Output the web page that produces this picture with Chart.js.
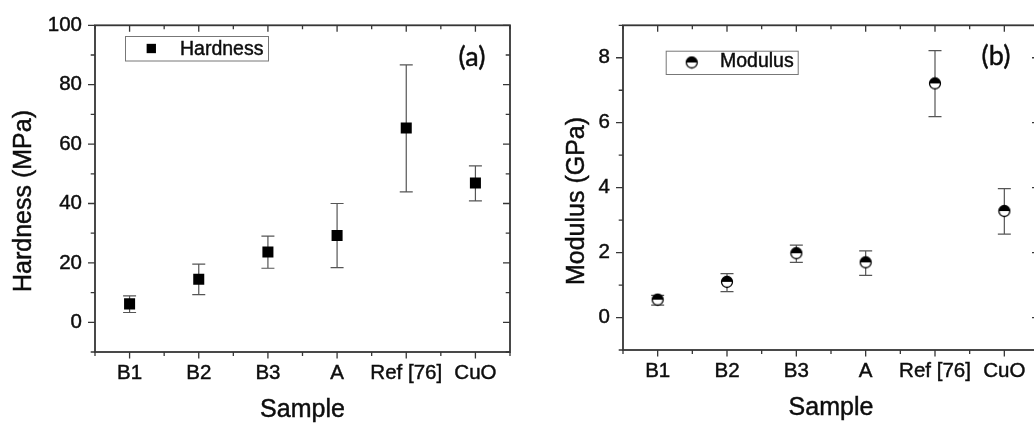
<!DOCTYPE html>
<html><head><meta charset="utf-8">
<script src="https://cdn.jsdelivr.net/npm/chart.js@4.4.1/dist/chart.umd.min.js"></script>
<style>
html,body{margin:0;padding:0;background:#fff;overflow:hidden;width:1034px;height:428px;}
#wrap{position:relative;width:1034px;height:428px;overflow:hidden;background:#fff;}
#c1{position:absolute;left:0;top:0;}
#c2{position:absolute;left:520px;top:0;}
</style></head><body>
<div id="wrap"><canvas id="c1" width="520" height="428"></canvas><canvas id="c2" width="540" height="428"></canvas></div>
<script>
// ---- data ----
const categories = ['B1', 'B2', 'B3', 'A', 'Ref [76]', 'CuO'];
const hardness = [6.2, 14.5, 23.7, 29.2, 65.4, 46.9];
const hardnessLow = [3.3, 9.3, 18.2, 18.4, 43.9, 40.9];
const hardnessHigh = [8.9, 19.6, 29.0, 40.0, 86.7, 52.7];
const modulus = [0.55, 1.10, 1.98, 1.70, 7.21, 3.28];
const modulusLow = [0.38, 0.80, 1.70, 1.30, 6.19, 2.57];
const modulusHigh = [0.68, 1.35, 2.23, 2.05, 8.22, 3.97];
const hardnessTicks = [0, 20, 40, 60, 80, 100];
const modulusTicks = [0, 2, 4, 6, 8];

const AXIS = '#363636', TEXT = '#0d0d0d';
const FONT = "'Liberation Sans', Arial, sans-serif";

function halfCircle(r) {
  const s = Math.ceil(2 * r + 3);
  const c = document.createElement('canvas');
  c.width = s; c.height = s;
  const g = c.getContext('2d');
  const cx = s / 2, cy = s / 2;
  g.fillStyle = '#fff'; g.beginPath(); g.arc(cx, cy, r, 0, 2 * Math.PI); g.fill();
  g.fillStyle = '#000'; g.beginPath(); g.arc(cx, cy, r, Math.PI, 2 * Math.PI); g.closePath(); g.fill();
  g.strokeStyle = '#000'; g.lineWidth = 1.3; g.beginPath(); g.arc(cx, cy, r, 0, 2 * Math.PI); g.stroke();
  return c;
}

function heavyText(ctx, text, x, y) {
  ctx.fillText(text, x, y);
  ctx.strokeText(text, x, y);
}

const panelPlugin = {
  id: 'panel',
  beforeDatasetsDraw(chart, args, o) {
    const {ctx} = chart; const xs = chart.scales.x, ys = chart.scales.y;
    ctx.save();
    ctx.strokeStyle = '#555'; ctx.lineWidth = 1.2;
    ctx.beginPath();
    o.low.forEach((lo, i) => {
      const px = xs.getPixelForValue(i);
      const y1 = ys.getPixelForValue(lo), y2 = ys.getPixelForValue(o.high[i]);
      ctx.moveTo(px, y1); ctx.lineTo(px, y2);
      ctx.moveTo(px - 6.5, y1); ctx.lineTo(px + 6.5, y1);
      ctx.moveTo(px - 6.5, y2); ctx.lineTo(px + 6.5, y2);
    });
    ctx.stroke();
    ctx.restore();
  },
  afterDraw(chart, args, o) {
    const {ctx, chartArea: a} = chart; const xs = chart.scales.x, ys = chart.scales.y;
    ctx.save();
    // frame
    ctx.strokeStyle = AXIS; ctx.lineWidth = 1.8;
    ctx.strokeRect(a.left, a.top, a.right - a.left, a.bottom - a.top);
    // ticks
    ctx.lineWidth = 1.3;
    ctx.beginPath();
    xs.ticks.forEach(t => {
      const px = xs.getPixelForValue(t.value);
      const L = Number.isInteger(t.value) ? 6.5 : 4;
      ctx.moveTo(px, a.bottom); ctx.lineTo(px, a.bottom + L);
      ctx.moveTo(px, a.top); ctx.lineTo(px, a.top + L);
    });
    ys.ticks.forEach(t => {
      const py = ys.getPixelForValue(t.value);
      const L = o.yMajor.includes(t.value) ? 7 : 4.3;
      ctx.moveTo(a.left, py); ctx.lineTo(a.left - L, py);
      ctx.moveTo(a.right, py); ctx.lineTo(a.right - L, py);
    });
    ctx.stroke();
    // legend
    const lg = o.legend;
    ctx.strokeStyle = '#777'; ctx.lineWidth = 1;
    ctx.strokeRect(lg.box[0] + 0.5, lg.box[1] + 0.5, lg.box[2], lg.box[3]);
    const ds = chart.data.datasets[0];
    ctx.fillStyle = '#000'; ctx.strokeStyle = '#000';
    if (Chart.helpers && Chart.helpers.drawPoint) {
      Chart.helpers.drawPoint(ctx, {pointStyle: ds.pointStyle, radius: lg.r, rotation: 0, borderWidth: 0}, lg.sym[0], lg.sym[1]);
    }
    ctx.fillStyle = TEXT; ctx.strokeStyle = TEXT; ctx.lineWidth = 0.45;
    ctx.font = '19.5px ' + FONT;
    ctx.textAlign = 'left'; ctx.textBaseline = 'middle';
    heavyText(ctx, ds.label, lg.text[0], lg.text[1]);
    // panel tag
    ctx.font = "27px Lato, 'Open Sans', sans-serif";
    ctx.textAlign = 'center';
    heavyText(ctx, o.tag.text, o.tag.x, o.tag.y);
    // x title
    ctx.font = '25px ' + FONT;
    heavyText(ctx, o.xTitle.text, (a.left + a.right) / 2, o.xTitle.y);
    // y title
    ctx.translate(o.yTitle.x, o.yTitle.y);
    ctx.rotate(-Math.PI / 2);
    heavyText(ctx, o.yTitle.text, 0, 0);
    ctx.restore();
  }
};

function build(id, cfg) {
  return new Chart(document.getElementById(id), {
    type: 'scatter',
    data: {
      datasets: [{
        label: cfg.label,
        data: categories.map((c, i) => ({x: i, y: cfg.values[i]})),
        pointStyle: cfg.pointStyle,
        pointRadius: cfg.radius,
        pointHoverRadius: cfg.radius,
        backgroundColor: '#000',
        borderColor: '#000',
        borderWidth: 0,
        showLine: false
      }]
    },
    options: {
      responsive: false,
      animation: false,
      events: [],
      layout: {padding: cfg.padding},
      plugins: {
        legend: {display: false},
        tooltip: {enabled: false},
        panel: cfg.panel
      },
      scales: {
        x: {
          type: 'linear', min: -0.5, max: 5.5,
          border: {display: false},
          grid: {display: false, drawTicks: false},
          ticks: {
            stepSize: 0.5, autoSkip: false, maxRotation: 0, minRotation: 0,
            padding: 9, color: TEXT, font: {family: FONT, size: 20.5},
            textStrokeColor: TEXT, textStrokeWidth: 0.45,
            callback: v => (Number.isInteger(v) && categories[v] !== undefined) ? categories[v] : ''
          },
          afterFit: s => { s.height = cfg.xHeight; }
        },
        y: {
          type: 'linear', min: cfg.yMin, max: cfg.yMax,
          border: {display: false},
          grid: {display: false, drawTicks: false},
          ticks: {
            stepSize: cfg.yStep, autoSkip: false, padding: 13, color: TEXT,
            font: {family: FONT, size: 20.5},
            textStrokeColor: TEXT, textStrokeWidth: 0.45,
            callback: v => cfg.yTicks.includes(v) ? String(v) : ''
          },
          afterFit: s => { s.width = cfg.yWidth; }
        }
      }
    },
    plugins: [panelPlugin]
  });
}

build('c1', {
  label: 'Hardness', values: hardness, pointStyle: 'rect', radius: 7.8,
  padding: {left: 0, right: 10, top: 18, bottom: 0},
  xHeight: 76, yWidth: 95,
  yMin: -10, yMax: 100, yStep: 10, yTicks: hardnessTicks,
  panel: {
    low: hardnessLow, high: hardnessHigh, yMajor: hardnessTicks,
    legend: {box: [125, 36, 143, 24.5], sym: [151.3, 48.5], r: 6.6, text: [180, 49.2]},
    tag: {text: '(a)', x: 472, y: 57},
    xTitle: {text: 'Sample', y: 410},
    yTitle: {text: 'Hardness (MPa)', x: 24.5, y: 201}
  }
});

build('c2', {
  label: 'Modulus', values: modulus, pointStyle: halfCircle(5.5), radius: 5.5,
  padding: {left: 0, right: 21, top: 16, bottom: 0},
  xHeight: 78, yWidth: 103,
  yMin: -1, yMax: 9, yStep: 1, yTicks: modulusTicks,
  panel: {
    low: modulusLow, high: modulusHigh, yMajor: modulusTicks,
    legend: {box: [145.7, 50.7, 132, 23.3], sym: [171.7, 62.5], r: 5, text: [200, 61.8]},
    tag: {text: '(b)', x: 476, y: 56.5},
    xTitle: {text: 'Sample', y: 408},
    yTitle: {text: 'Modulus (GPa)', x: 57, y: 201}
  }
});
</script>
</body></html>
